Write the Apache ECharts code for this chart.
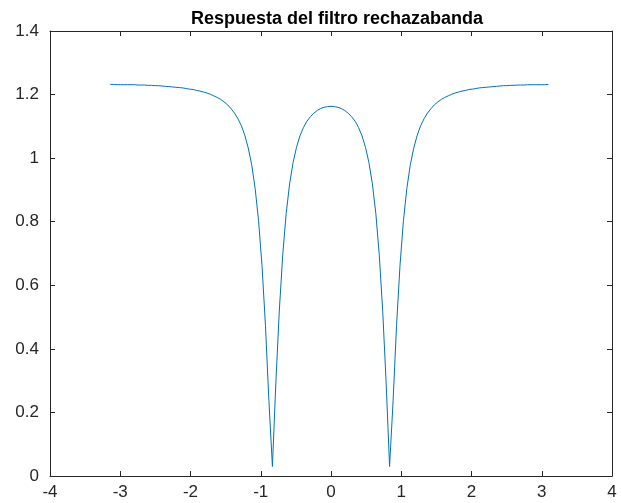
<!DOCTYPE html>
<html>
<head>
<meta charset="utf-8">
<script src="https://cdn.jsdelivr.net/npm/echarts@6/dist/echarts.min.js"></script>
<style>
html,body{margin:0;padding:0;background:#fff;}
#chart{width:621px;height:503px;}
</style>
</head>
<body>
<div id="chart"></div>
<script>
var titleText = 'Respuesta del filtro rechazabanda';
var freq = [-3.142,-3.093,-3.043,-2.994,-2.945,-2.896,-2.847,-2.798,-2.749,-2.700,-2.651,-2.602,-2.553,-2.503,-2.454,-2.405,-2.356,-2.307,-2.258,-2.209,-2.160,-2.111,-2.062,-2.013,-1.963,-1.914,-1.865,-1.816,-1.767,-1.718,-1.669,-1.620,-1.571,-1.522,-1.473,-1.424,-1.374,-1.325,-1.276,-1.227,-1.178,-1.129,-1.080,-1.031,-0.982,-0.933,-0.884,-0.834,-0.785,-0.736,-0.687,-0.638,-0.589,-0.540,-0.491,-0.442,-0.393,-0.344,-0.295,-0.245,-0.196,-0.147,-0.098,-0.049,0,0.049,0.098,0.147,0.196,0.245,0.295,0.344,0.393,0.442,0.491,0.540,0.589,0.638,0.687,0.736,0.785,0.834,0.884,0.933,0.982,1.031,1.080,1.129,1.178,1.227,1.276,1.325,1.374,1.424,1.473,1.522,1.571,1.620,1.669,1.718,1.767,1.816,1.865,1.914,1.963,2.013,2.062,2.111,2.160,2.209,2.258,2.307,2.356,2.405,2.454,2.503,2.553,2.602,2.651,2.700,2.749,2.798,2.847,2.896,2.945,2.994,3.043,3.093];
var magnitude = [1.232,1.232,1.231,1.231,1.231,1.231,1.231,1.231,1.230,1.230,1.230,1.229,1.229,1.228,1.228,1.227,1.226,1.225,1.224,1.223,1.222,1.221,1.219,1.217,1.216,1.213,1.211,1.208,1.205,1.201,1.196,1.191,1.185,1.177,1.168,1.156,1.142,1.124,1.102,1.072,1.032,0.979,0.905,0.803,0.662,0.473,0.237,0.030,0.293,0.519,0.696,0.826,0.919,0.986,1.034,1.070,1.096,1.116,1.130,1.141,1.150,1.156,1.160,1.162,1.163,1.162,1.160,1.156,1.150,1.141,1.130,1.116,1.096,1.070,1.034,0.986,0.919,0.826,0.696,0.519,0.293,0.030,0.237,0.473,0.662,0.803,0.905,0.979,1.032,1.072,1.102,1.124,1.142,1.156,1.168,1.177,1.185,1.191,1.196,1.201,1.205,1.208,1.211,1.213,1.216,1.217,1.219,1.221,1.222,1.223,1.224,1.225,1.226,1.227,1.228,1.228,1.229,1.229,1.230,1.230,1.230,1.231,1.231,1.231,1.231,1.231,1.231,1.232];
var xMin = -4, xMax = 4, xStep = 1;
var yMin = 0, yMax = 1.4, yStep = 0.2;

var pts = freq.map(function(f, i){ return [f, magnitude[i]]; });
var axisColor = '#262626';
var font = '"Liberation Sans", Arial, Helvetica, sans-serif';
var tickFont = 17;

function axisCommon(show){
  return {
    axisLine: {show: true, onZero: false, lineStyle: {color: axisColor, width: 1}},
    axisTick: {show: true, inside: true, length: 5, lineStyle: {color: axisColor}},
    axisLabel: {show: show, color: axisColor, fontSize: tickFont, fontFamily: font},
    splitLine: {show: false}
  };
}

var chart = echarts.init(document.getElementById('chart'), null, {renderer: 'canvas'});
chart.setOption({
  animation: false,
  backgroundColor: '#ffffff',
  title: {
    text: titleText, left: 332, top: 5, textAlign: 'center',
    textStyle: {fontFamily: font, fontSize: 18, fontWeight: 'bold', color: '#000'}
  },
  grid: {left: 50, right: 9, top: 31, bottom: 27, containLabel: false},
  xAxis: [
    Object.assign({type: 'value', position: 'bottom', min: xMin, max: xMax, interval: xStep}, axisCommon(true), {axisLabel: {color: axisColor, fontSize: tickFont, fontFamily: font, margin: 8}}),
    Object.assign({type: 'value', position: 'top', min: xMin, max: xMax, interval: xStep}, axisCommon(false))
  ],
  yAxis: [
    Object.assign({type: 'value', position: 'left', min: yMin, max: yMax, interval: yStep}, axisCommon(true), {axisLabel: {color: axisColor, fontSize: tickFont, fontFamily: font, margin: 11}}),
    Object.assign({type: 'value', position: 'right', min: yMin, max: yMax, interval: yStep}, axisCommon(false))
  ],
  series: [{
    type: 'line', data: pts, xAxisIndex: 0, yAxisIndex: 0,
    showSymbol: false, symbol: 'none',
    lineStyle: {color: '#0072BD', width: 1}
  }]
});
</script>
</body>
</html>
